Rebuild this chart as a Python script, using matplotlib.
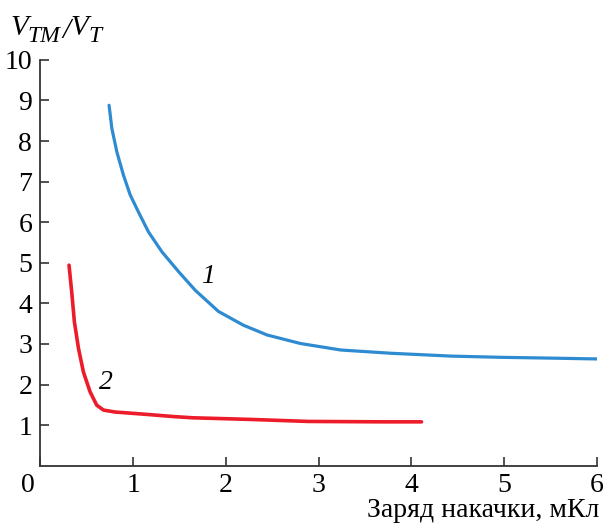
import matplotlib
matplotlib.use("Agg")
import matplotlib.pyplot as plt
import matplotlib.transforms as mtransforms

# Кривая 1 (синяя)
x1 = [0.74, 0.77, 0.824, 0.895, 0.968, 1.057, 1.165, 1.31, 1.49, 1.67, 1.92, 2.19,
      2.445, 2.805, 3.24, 3.78, 4.43, 4.97, 5.51, 6.0]
y1 = [8.88, 8.31, 7.73, 7.16, 6.67, 6.25, 5.76, 5.27, 4.78, 4.32, 3.80, 3.46,
      3.22, 3.01, 2.85, 2.77, 2.70, 2.67, 2.65, 2.63]

# Кривая 2 (красная)
x2 = [0.308, 0.337, 0.366, 0.41, 0.463, 0.535, 0.607, 0.68, 0.81, 0.878, 1.165,
      1.436, 1.64, 2.26, 2.89, 3.72, 4.11]
y2 = [4.94, 4.28, 3.54, 2.89, 2.31, 1.82, 1.49, 1.37, 1.32, 1.31, 1.26,
      1.21, 1.18, 1.14, 1.09, 1.08, 1.08]

x_ticks = [0, 1, 2, 3, 4, 5, 6]
y_ticks = [1, 2, 3, 4, 5, 6, 7, 8, 9, 10]

plt.rcParams["font.family"] = ["Liberation Serif", "DejaVu Serif"]

W, H = 604, 525
fig = plt.figure(figsize=(W / 100, H / 100), dpi=100)
ax = fig.add_axes([0.067, 0.113, 0.921, 0.773])

ax.plot(x1, y1, color="#2f8bd1", lw=2.3, solid_capstyle="round", solid_joinstyle="round")
ax.plot(x2, y2, color="#ec1c2a", lw=2.6, solid_capstyle="round", solid_joinstyle="round")

ax.text(1.81, 4.65, "1", fontsize=20, style="italic", ha="center", va="center")
ax.text(0.71, 2.04, "2", fontsize=20, style="italic", ha="center", va="center")

ax.set_xlim(0, 6)
ax.set_ylim(0, 10)
ax.set_xticks(x_ticks)
ax.set_yticks(y_ticks)
ax.tick_params(direction="in", length=6.5, width=1.2, labelsize=20, color="#333333")
ax.tick_params(axis="x", pad=5)
ax.tick_params(axis="y", pad=6)
for s in ["top", "right"]:
    ax.spines[s].set_visible(False)
for s in ["left", "bottom"]:
    ax.spines[s].set_color("#333333")
    ax.spines[s].set_linewidth(1.3)

# "0" стоит левее начала оси
lbl0 = ax.get_xticklabels()[0]
lbl0.set_transform(lbl0.get_transform() + mtransforms.ScaledTranslation(-0.13, 0, fig.dpi_scale_trans))

# подпись оси Y: V_TM / V_T
def ftxt(px, py, s, size):
    fig.text(px / W, 1 - py / H, s, fontsize=size, style="italic", ha="left", va="baseline")

ftxt(10, 35, "V", 21)
ftxt(27, 42, "TM", 17)
ftxt(62, 38, "/", 21)
ftxt(70, 35, "V", 21)
ftxt(88, 42, "T", 17)

fig.text(0.993, 1 - 517 / H, "Заряд накачки, мКл", fontsize=20, ha="right", va="baseline")

fig.savefig("out.png", dpi=100)
